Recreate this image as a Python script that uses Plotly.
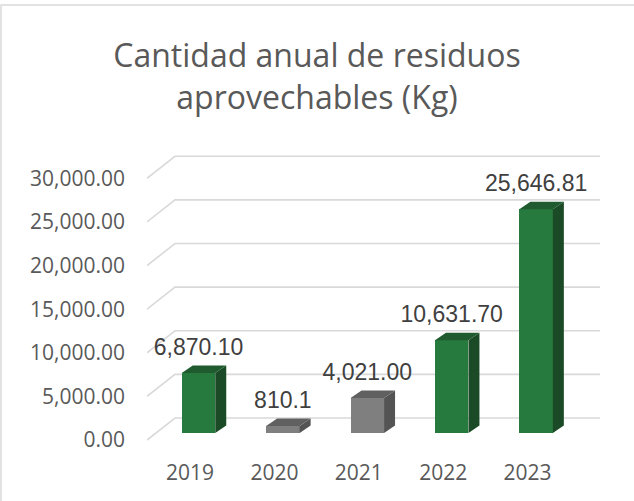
import plotly.graph_objects as go

# ---------------- data ----------------
years = ["2019", "2020", "2021", "2022", "2023"]
values = [6870.10, 810.1, 4021.00, 10631.70, 25646.81]
value_labels = ["6,870.10", "810.1", "4,021.00", "10,631.70", "25,646.81"]
is_green = [True, False, False, True, True]
y_ticks = [0, 5000, 10000, 15000, 20000, 25000, 30000]
title_text = "Cantidad anual de residuos<br>aprovechables (Kg)"

# ---------------- layout geometry ----------------
W, H = 634, 501
ML, MR, MT, MB = 147, 32, 150, 55
plot_w = W - ML - MR
plot_h = H - MT - MB
xr = [-0.5095, 4.8815]
yr = [-688, 33245]
px_x = plot_w / (xr[1] - xr[0])      # pixels per category unit
px_y = plot_h / (yr[1] - yr[0])      # pixels per kg

def dx(p):
    return p / px_x

def dy(p):
    return p / px_y

# 3D pseudo-perspective offsets (pixels)
WALL_DX, WALL_DY = 28, 22     # front plane -> back wall
BAR_OFF_X, BAR_OFF_Y = 8.5, 7  # front plane -> bar front face
DEP_X, DEP_Y = 11, 7.5         # bar depth
BAR_W = 33.5
BACK_RIGHT_PX = 600

GREEN = dict(front="#277a3e", top="#1f5b2f", side="#1a4b26")
GRAY = dict(front="#7f7f7f", top="#606060", side="#545454")
GRID = "#d9d9d9"

fig = go.Figure()

# gridlines: floor diagonal + back wall (drawn below the traces)
x_left = xr[0]
x_back_right = (BACK_RIGHT_PX - ML) / px_x + xr[0]
for v in y_ticks:
    path = "M {:.5f},{:.3f} L {:.5f},{:.3f} L {:.5f},{:.3f}".format(
        x_left, v, x_left + dx(WALL_DX), v + dy(WALL_DY),
        x_back_right, v + dy(WALL_DY))
    fig.add_shape(type="path", xref="x", yref="y", path=path,
                  line=dict(color=GRID, width=1.6), layer="below")

# bars: front faces
xc = [i + dx(BAR_OFF_X) for i in range(len(years))]
base = dy(BAR_OFF_Y)
fronts = [GREEN["front"] if g else GRAY["front"] for g in is_green]
fig.add_trace(go.Bar(
    x=xc, y=values, base=[base] * len(values), width=dx(BAR_W),
    marker=dict(color=fronts, line=dict(width=0)),
    hoverinfo="skip", showlegend=False))

# side and top faces
hw = dx(BAR_W) / 2
for i, v in enumerate(values):
    pal = GREEN if is_green[i] else GRAY
    l, r = xc[i] - hw, xc[i] + hw
    b, t = base, base + v
    fig.add_trace(go.Scatter(
        x=[r, r, r + dx(DEP_X), r + dx(DEP_X), r],
        y=[b, t, t + dy(DEP_Y), b + dy(DEP_Y), b],
        fill="toself", fillcolor=pal["side"], mode="lines",
        line=dict(width=0, color=pal["side"]),
        hoverinfo="skip", showlegend=False))
    fig.add_trace(go.Scatter(
        x=[l, r, r + dx(DEP_X), l + dx(DEP_X), l],
        y=[t, t, t + dy(DEP_Y), t + dy(DEP_Y), t],
        fill="toself", fillcolor=pal["top"], mode="lines",
        line=dict(width=0, color=pal["top"]),
        hoverinfo="skip", showlegend=False))

# value labels
fig.add_trace(go.Scatter(
    x=xc, y=[base + v + dy(24) for v in values],
    mode="text", text=value_labels, textposition="middle center",
    textfont=dict(family="Liberation Sans, Arial", size=23, color="#404040"),
    cliponaxis=False, hoverinfo="skip", showlegend=False))

# chart-area border
def paper_x(p):
    return (p - ML) / plot_w

def paper_y(p):
    return (H - MB - p) / plot_h

fig.add_shape(type="rect", xref="paper", yref="paper",
              x0=paper_x(1), x1=paper_x(W + 10), y0=paper_y(H + 10), y1=paper_y(5),
              line=dict(color=GRID, width=1.5), fillcolor="rgba(0,0,0,0)")

fig.update_layout(
    width=W, height=H,
    margin=dict(l=ML, r=MR, t=MT, b=MB),
    paper_bgcolor="white", plot_bgcolor="white",
    title=dict(text=title_text, x=0.5, xanchor="center",
               y=1 - 67 / H, yanchor="middle", yref="container",
               font=dict(family="Open Sans", size=32, color="#595959")),
    xaxis=dict(range=xr, tickmode="array", tickvals=list(range(len(years))),
               ticktext=years, showgrid=False, zeroline=False, showline=False,
               ticks="", ticklabelstandoff=12,
               tickfont=dict(family="Open Sans", size=21, color="#595959")),
    yaxis=dict(range=yr, tickmode="array", tickvals=y_ticks,
               tickformat=",.2f", showgrid=False, zeroline=False, showline=False,
               ticks="", ticklabelstandoff=21,
               tickfont=dict(family="Open Sans", size=21, color="#595959")),
    bargap=0,
)

fig.write_html("out.html",
               config={"displayModeBar": False},
               post_script="document.body.style.margin='0';document.body.style.overflow='hidden';")
